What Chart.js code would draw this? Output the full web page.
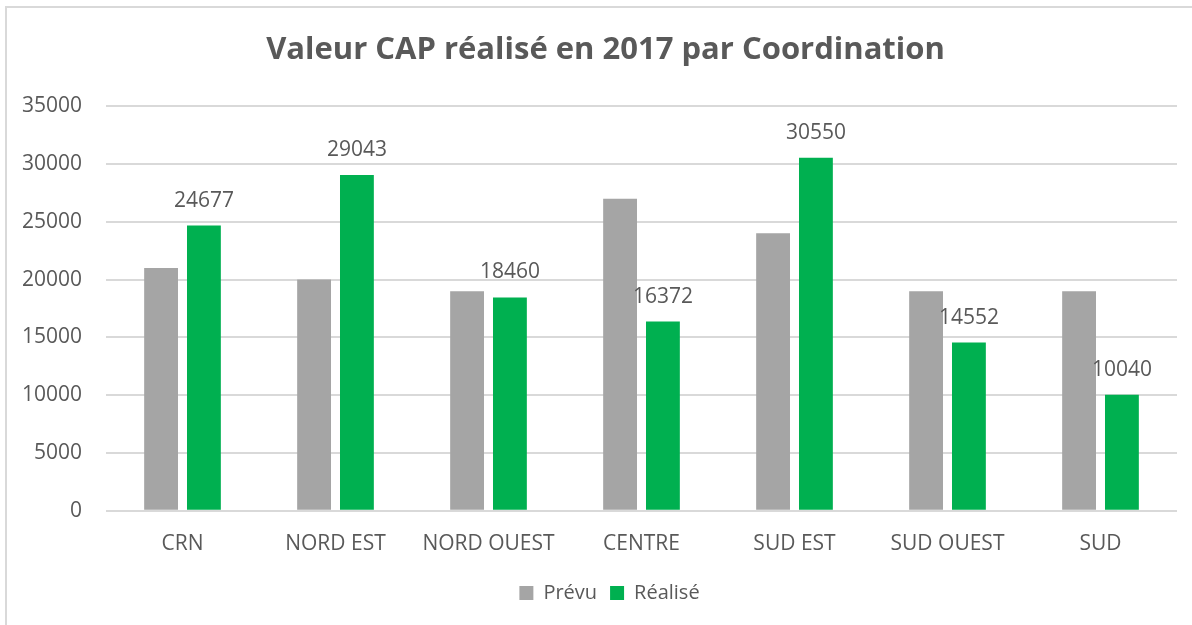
<!DOCTYPE html>
<html>
<head>
<meta charset="utf-8">
<script src="https://cdn.jsdelivr.net/npm/chart.js@4.4.1/dist/chart.umd.min.js"></script>
<style>
  html, body { margin: 0; padding: 0; background: #fff; overflow: hidden; }
  #wrap { position: relative; width: 1192px; height: 625px; }
  #frame { position: absolute; left: 5px; top: 6px; width: 1200px; height: 640px;
           border-left: 2px solid #d9d9d9; border-top: 2px solid #d9d9d9; pointer-events: none; }
</style>
</head>
<body>
<div id="wrap">
  <canvas id="capChart" width="1192" height="625"></canvas>
  <div id="frame"></div>
</div>
<script>
const coordinations = ['CRN', 'NORD EST', 'NORD OUEST', 'CENTRE', 'SUD EST', 'SUD OUEST', 'SUD'];
const prevu = [21000, 20000, 19000, 27000, 24000, 19000, 19000];
const realise = [24677, 29043, 18460, 16372, 30550, 14552, 10040];
const yTicks = [0, 5000, 10000, 15000, 20000, 25000, 30000, 35000];

const textColor = '#595959';
const fontFamily = '"Open Sans", "Liberation Sans", sans-serif';

// draws the value above each "Réalisé" bar
const valueLabels = {
  id: 'valueLabels',
  afterDatasetsDraw(chart) {
    const ctx = chart.ctx;
    const meta = chart.getDatasetMeta(1);
    ctx.save();
    ctx.font = '21px ' + fontFamily;
    ctx.fillStyle = textColor;
    ctx.textAlign = 'center';
    ctx.textBaseline = 'middle';
    meta.data.forEach((bar, i) => {
      ctx.fillText(String(realise[i]), bar.x, bar.y - 25);
    });
    ctx.restore();
  }
};

// the Excel chart centres title and legend on the whole frame, not the plot box
const nudgeBoxes = {
  id: 'nudgeBoxes',
  afterLayout(chart) {
    if (chart.titleBlock) { chart.titleBlock.left += 17; chart.titleBlock.right += 17; }
    if (chart.legend) { chart.legend.left += 21; chart.legend.right += 21; }
  }
};

const ctx = document.getElementById('capChart').getContext('2d');
new Chart(ctx, {
  type: 'bar',
  data: {
    labels: coordinations,
    datasets: [
      { label: 'Prévu', data: prevu, backgroundColor: '#a5a5a5' },
      { label: 'Réalisé', data: realise, backgroundColor: '#00b050' }
    ]
  },
  options: {
    responsive: false,
    animation: false,
    categoryPercentage: 0.56,
    barPercentage: 0.79,
    layout: { padding: { left: 0, right: 15, top: 0, bottom: 12 } },
    plugins: {
      title: {
        display: true,
        text: 'Valeur CAP réalisé en 2017 par Coordination',
        color: textColor,
        font: { family: fontFamily, size: 31, weight: 'bold' },
        padding: { top: 32, bottom: 37 }
      },
      legend: {
        position: 'bottom',
        labels: {
          color: textColor,
          font: { family: fontFamily, size: 20 },
          boxWidth: 14,
          boxHeight: 14,
          padding: 13
        }
      },
      tooltip: { enabled: false }
    },
    scales: {
      x: {
        grid: { display: false },
        border: { display: false },
        ticks: { color: textColor, font: { family: fontFamily, size: 21 }, padding: 13, maxRotation: 0 }
      },
      y: {
        min: 0,
        max: 35000,
        afterBuildTicks(scale) { scale.ticks = yTicks.map(v => ({ value: v })); },
        afterFit(scale) { scale.width = 106; },
        grid: { color: '#d9d9d9', lineWidth: 2, drawTicks: false },
        border: { display: false },
        ticks: {
          color: textColor,
          font: { family: fontFamily, size: 21 },
          padding: 24,
          callback: v => String(v)
        }
      }
    }
  },
  plugins: [valueLabels, nudgeBoxes]
});
</script>
</body>
</html>
